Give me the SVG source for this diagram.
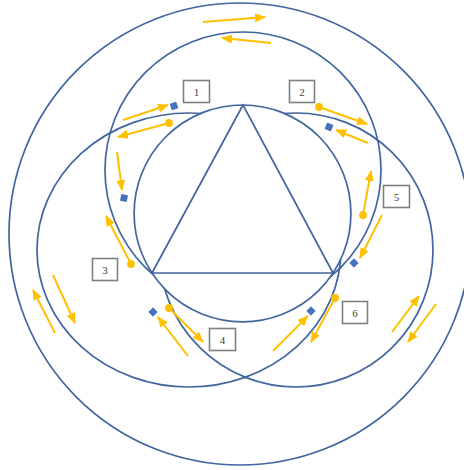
<svg xmlns="http://www.w3.org/2000/svg" width="464" height="470" viewBox="0 0 464 470">
<style>
.ring{fill:none;stroke:#41659F;stroke-width:1.7}
.inner{fill:#FFFFFF;stroke:#41659F;stroke-width:1.7}
.tri{fill:none;stroke:#41659F;stroke-width:1.7;stroke-linejoin:miter}
.arr{stroke:#FFC000;stroke-width:2;fill:none;marker-end:url(#ah)}
.dot{fill:#FFC000}
.dia{fill:#4472C4;stroke:#2F5597;stroke-width:0.6}
.box{fill:#FFFFFF;stroke:#7F7F7F;stroke-width:1.6}
.num{font-family:"Liberation Serif","Times New Roman",serif;font-size:11px;fill:#404040;text-anchor:middle}
</style>
<defs>
<marker id="ah" markerUnits="userSpaceOnUse" markerWidth="11" markerHeight="9" refX="10" refY="4.5" orient="auto">
<path d="M0,0 L11,4.5 L0,9 Z" fill="#FFC000"/>
</marker>
</defs>
<rect width="464" height="470" fill="#FFFFFF"/>
<g id="rings">
<circle id="outer-ring" class="ring" cx="240" cy="234" r="231"/>
<circle id="top-ring" class="ring" cx="243" cy="170" r="138"/>
<ellipse id="left-ring" class="ring" cx="189" cy="250" rx="152" ry="137"/>
<circle id="right-ring" class="ring" cx="296" cy="250" r="137"/>
<circle id="inner-ring" class="inner" cx="242.5" cy="213.4" r="108.4"/>
</g>
<g id="triangle">
<polygon class="tri" points="243,105 152,273 333,273"/>
</g>
<g id="connectors">
<line class="arr" x1="203" y1="22" x2="265" y2="17"/>
<line class="arr" x1="271" y1="43" x2="222" y2="38"/>
<line class="arr" x1="123" y1="120" x2="168" y2="105"/>
<line class="arr" x1="169" y1="123" x2="118" y2="137"/>
<line class="arr" x1="117" y1="152" x2="122" y2="190"/>
<line class="arr" x1="319" y1="107" x2="367" y2="124"/>
<line class="arr" x1="368" y1="143" x2="336" y2="130"/>
<line class="arr" x1="363" y1="215" x2="371" y2="171"/>
<line class="arr" x1="382" y1="215" x2="360" y2="258"/>
<line class="arr" x1="335" y1="298" x2="311" y2="342"/>
<line class="arr" x1="273" y1="351" x2="308" y2="316"/>
<line class="arr" x1="169" y1="308" x2="203" y2="342"/>
<line class="arr" x1="188" y1="356" x2="158" y2="317"/>
<line class="arr" x1="131" y1="264" x2="106" y2="216"/>
<line class="arr" x1="55" y1="333" x2="33" y2="290"/>
<line class="arr" x1="53" y1="275" x2="75" y2="323"/>
<line class="arr" x1="392" y1="332" x2="419" y2="296"/>
<line class="arr" x1="436" y1="304" x2="408" y2="342"/>
</g>
<g id="dots">
<circle class="dot" cx="169" cy="123" r="3.9"/>
<circle class="dot" cx="319" cy="107" r="3.9"/>
<circle class="dot" cx="363" cy="215" r="3.9"/>
<circle class="dot" cx="335" cy="298" r="3.9"/>
<circle class="dot" cx="169" cy="308" r="3.9"/>
<circle class="dot" cx="131" cy="264" r="3.9"/>
</g>
<g id="diamonds">
<rect class="dia" x="-3" y="-3" width="6" height="6" transform="translate(174,106) rotate(-18)"/>
<rect class="dia" x="-3" y="-3" width="6" height="6" transform="translate(124,198) rotate(10)"/>
<rect class="dia" x="-3" y="-3" width="6" height="6" transform="translate(329,127) rotate(22)"/>
<rect class="dia" x="-3" y="-3" width="6" height="6" transform="translate(354,263) rotate(45)"/>
<rect class="dia" x="-3" y="-3" width="6" height="6" transform="translate(311,311) rotate(45)"/>
<rect class="dia" x="-3" y="-3" width="6" height="6" transform="translate(153,312) rotate(45)"/>
</g>
<g id="label-1"><rect class="box" x="183.5" y="80.5" width="26" height="22"/><text class="num" x="196.5" y="95.5">1</text></g>
<g id="label-2"><rect class="box" x="289.5" y="80.5" width="25" height="22"/><text class="num" x="302" y="95.5">2</text></g>
<g id="label-3"><rect class="box" x="92.5" y="258.5" width="25" height="22"/><text class="num" x="105" y="273.5">3</text></g>
<g id="label-4"><rect class="box" x="209.5" y="328.5" width="26" height="22"/><text class="num" x="222.5" y="343.5">4</text></g>
<g id="label-5"><rect class="box" x="383.5" y="185.5" width="26" height="22"/><text class="num" x="396.5" y="200.5">5</text></g>
<g id="label-6"><rect class="box" x="342.5" y="301.5" width="25" height="22"/><text class="num" x="355" y="316.5">6</text></g>
</svg>
